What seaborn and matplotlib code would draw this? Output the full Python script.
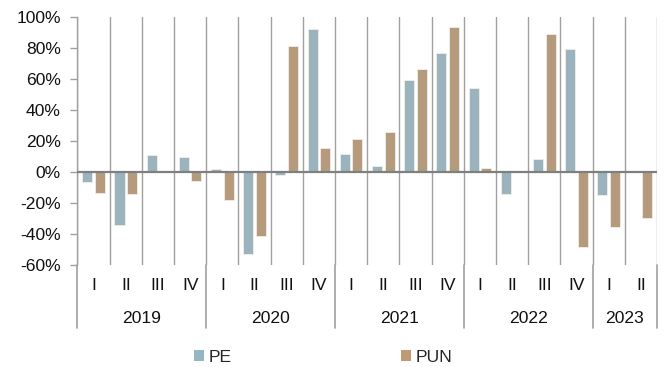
import numpy as np
import pandas as pd
import matplotlib
matplotlib.use("Agg")
import matplotlib.pyplot as plt
import matplotlib.transforms as mtransforms
from matplotlib.patches import Patch
from matplotlib.ticker import FixedLocator, FuncFormatter
import seaborn as sns

# Quarterly year-on-year change (%)
years = ["2019", "2020", "2021", "2022", "2023"]
quarters_per_year = [4, 4, 4, 4, 2]
quarter_names = ["I", "II", "III", "IV"]

pe = [-6.4, -34.4, 10.8, 9.7,
      2.2, -53.0, -1.7, 92.3,
      11.6, 4.1, 59.6, 76.8,
      54.0, -14.4, 8.2, 79.0,
      -14.8, np.nan]
pun = [-13.3, -14.4, np.nan, -5.8,
       -17.8, -41.0, 81.5, 15.3,
       21.1, 25.6, 66.7, 93.4,
       2.4, np.nan, 88.8, -48.4,
       -35.5, -29.9]

series_names = ["PE", "PUN"]
series_colors = ["#95B6C2", "#C09A74"]

# Build the quarter axis
periods, q_labels = [], []
for y, n in zip(years, quarters_per_year):
    for q in quarter_names[:n]:
        periods.append(f"{y}-{q}")
        q_labels.append(q)

df = pd.DataFrame({
    "period": periods * 2,
    "series": ["PE"] * len(periods) + ["PUN"] * len(periods),
    "value": pe + pun,
})

sns.set_style("white")
plt.rcParams["font.family"] = ["Liberation Sans", "DejaVu Sans"]
FS = 12.6
plt.rcParams["font.size"] = FS

fig = plt.figure(figsize=(6.65, 3.67), dpi=100)
ax = fig.add_axes([0.1165, 0.278, 0.8715, 0.676])

sns.barplot(data=df, x="period", y="value", hue="series", order=periods,
            hue_order=series_names, palette=series_colors, width=0.78,
            gap=0.2, edgecolor="#F2EEE8", linewidth=0.6, ax=ax,
            legend=False)

n = len(periods)
ax.set_xlim(-0.5, n - 0.5)
ax.set_ylim(-60, 100)
ax.set_yticks(np.arange(-60, 101, 20))
ax.yaxis.set_major_formatter(FuncFormatter(lambda v, _: f"{v:.0f}%"))
ax.tick_params(axis="y", length=5, width=1, color="#A0A0A0", pad=7,
               labelsize=FS, labelcolor="#111111", left=True)
ax.set_xlabel("")
ax.set_ylabel("")

# Quarter separators as vertical grid lines
ax.xaxis.set_major_locator(FixedLocator(np.arange(-0.5, n, 1.0)))
ax.set_xticklabels([])
ax.tick_params(axis="x", length=0)
ax.grid(axis="x", color="#A0A0A0", lw=1.0)
ax.grid(axis="y", visible=False)
ax.set_axisbelow(True)

for side in ["top", "right", "bottom"]:
    ax.spines[side].set_visible(False)
ax.spines["left"].set_color("#A0A0A0")
ax.spines["left"].set_linewidth(1.0)

ax.axhline(0, color="#7F7F7F", lw=1.6, zorder=3)

trans = mtransforms.blended_transform_factory(ax.transData, ax.transAxes)

# Quarter labels
for i, lab in enumerate(q_labels):
    ax.text(i, -0.081, lab, transform=trans, ha="center", va="center",
            fontsize=FS, color="#111111")

# Year labels and year separators
start = 0
bounds = [-0.5]
for y, k in zip(years, quarters_per_year):
    mid = start + (k - 1) / 2
    ax.text(mid, -0.214, y, transform=trans, ha="center", va="center",
            fontsize=FS, color="#111111")
    start += k
    bounds.append(start - 0.5)
for b in bounds:
    ax.plot([b, b], [0, -0.254], transform=trans, color="#A0A0A0",
            lw=1.2, clip_on=False)

handles = [Patch(facecolor=c, edgecolor="none") for c in series_colors]
fig.legend(handles, series_names, loc="center", bbox_to_anchor=(0.486, 0.026),
           ncol=2, frameon=False, fontsize=FS, handlelength=0.55,
           handleheight=0.55, handletextpad=0.25, columnspacing=9.7)

fig.savefig("out.png", dpi=100)
